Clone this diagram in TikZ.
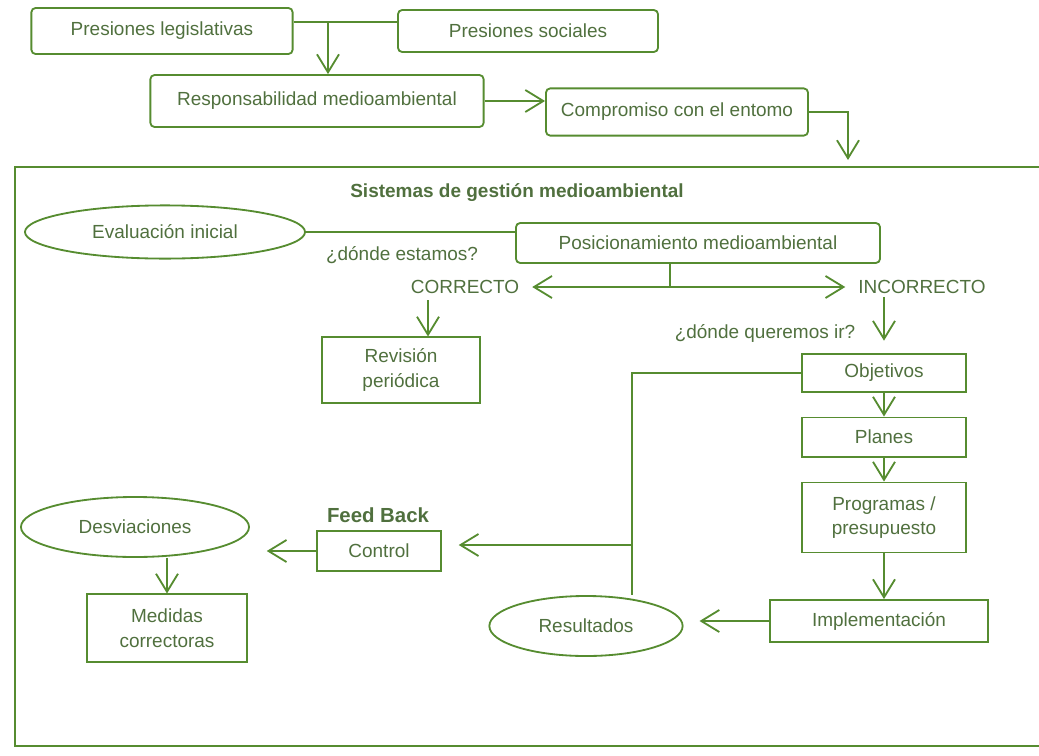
\documentclass[tikz,border=0pt]{standalone}
\usepackage{fontspec}
\setmainfont{Liberation Sans}
\usetikzlibrary{arrows.meta,positioning,shapes.geometric}
\definecolor{linegreen}{RGB}{86,140,48}
\definecolor{textgreen}{RGB}{80,112,62}

\begin{document}
\begin{tikzpicture}[
    x=0.025cm, y=-0.025cm,
    font=\fontsize{13.5}{17.5}\selectfont,
    rbox/.style={draw=linegreen, line width=1.3pt, rounded corners=3pt, align=center, inner sep=0pt, text=textgreen},
    sbox/.style={draw=linegreen, line width=1.3pt, align=center, inner sep=0pt, text=textgreen},
    oval/.style={draw=linegreen, line width=1.3pt, ellipse, align=center, inner sep=0pt, text=textgreen},
    word/.style={inner sep=2pt, text=textgreen},
    link/.style={draw=linegreen, line width=1.3pt},
    arrow/.style={link, -{Straight Barb[length=4.5mm, width=5.5mm]}}
]
\useasboundingbox (0,0) rectangle (1039,756);

\node[rbox, minimum width=6.53cm, minimum height=1.15cm] (legis) at (162,31) {Presiones legislativas};
\node[rbox, minimum width=6.5cm, minimum height=1.05cm] (social) at (528,31) {Presiones sociales};
\node[rbox, minimum width=8.33cm, minimum height=1.3cm] (resp) at (317,101) {Responsabilidad medioambiental};
\node[rbox, minimum width=6.55cm, minimum height=1.18cm] (compromiso) at (677,112) {Compromiso con el entomo};

\draw[link, line width=1.7pt] (1039,167) -- (15,167) -- (15,746) -- (1039,746);
\node[word, font=\fontsize{13.5}{17.5}\selectfont\bfseries] (sgma) at (517,193) {Sistemas de gestión medioambiental};

\node[oval, minimum width=7cm, minimum height=1.33cm] (evalini) at (165,232) {Evaluación inicial};
\node[rbox, minimum width=9.1cm, minimum height=1cm] (posic) at (698,243) {Posicionamiento medioambiental};
\node[word] (estamos) at (402,255) {¿dónde estamos?};
\node[word] (correcto) at (465,287) {CORRECTO};
\node[word] (incorrecto) at (922,287) {INCORRECTO};
\node[word] (queremos) at (765,333) {¿dónde queremos ir?};
\node[sbox, minimum width=3.93cm, minimum height=1.63cm] (revision) at (401,370) {Revisión\\periódica};

\node[sbox, minimum width=4.08cm, minimum height=0.93cm] (objetivos) at (884,373) {Objetivos};
\node[sbox, minimum width=4.08cm, minimum height=0.98cm, below=0.6cm of objetivos] (planes) {Planes};
\node[sbox, minimum width=4.1cm, minimum height=1.75cm, below=0.6cm of planes] (programas) {Programas /\\presupuesto};
\node[sbox, minimum width=5.45cm, minimum height=1.05cm] (implem) at (879,621) {Implementación};
\node[oval, minimum width=4.83cm, minimum height=1.5cm] (resultados) at (586,626) {Resultados};

\node[sbox, minimum width=3.1cm, minimum height=1cm] (control) at (379,551) {Control};
\node[word, font=\fontsize{14.5}{17.5}\selectfont\bfseries] (feedback) at (378,515) {Feed Back};
\node[oval, minimum width=5.7cm, minimum height=1.5cm] (desv) at (135,527) {Desviaciones};
\node[sbox, minimum width=4cm, minimum height=1.68cm] (medidas) at (167,628) {Medidas\\correctoras};

\coordinate (presjoin) at (328,22);
\coordinate (split) at (670,287);
\coordinate (sgmin) at (848,160);
\coordinate (corrdown) at (428,300);
\coordinate (loop) at (632,545);

\draw[link] (legis.east |- presjoin) -- (social.west |- presjoin);
\draw[arrow] (presjoin) -- (presjoin |- resp.north);
\draw[arrow] (resp.east) -- (resp.east -| compromiso.west);
\draw[arrow] (compromiso.east) -| (sgmin);

\draw[link] (evalini.east) -- (evalini.east -| posic.west);
\draw[link] (posic.south -| split) -- (split);
\draw[arrow, shorten >=0.25cm] (split) -- (correcto.east);
\draw[arrow, shorten >=0.25cm] (split) -- (incorrecto.west);
\draw[arrow] (corrdown) -- (corrdown |- revision.north);
\draw[arrow, shorten >=0.32cm] (incorrecto.south -| objetivos.north) -- (objetivos.north);

\draw[arrow] (objetivos) -- (planes);
\draw[arrow] (planes) -- (programas);
\draw[arrow] (programas.south) -- (programas.south |- implem.north);
\draw[arrow, shorten >=0.4cm] (implem.west) -- (implem.west -| resultados.east);
\draw[link] (objetivos.west) -| (loop) -- (loop |- resultados.north);
\draw[arrow, shorten >=0.42cm] (loop) -- (loop -| control.east);
\draw[arrow, shorten >=0.42cm] (control.west) -- (control.west -| desv.east);
\draw[arrow] (desv.south -| medidas.north) -- (medidas.north);
\end{tikzpicture}
\end{document}
